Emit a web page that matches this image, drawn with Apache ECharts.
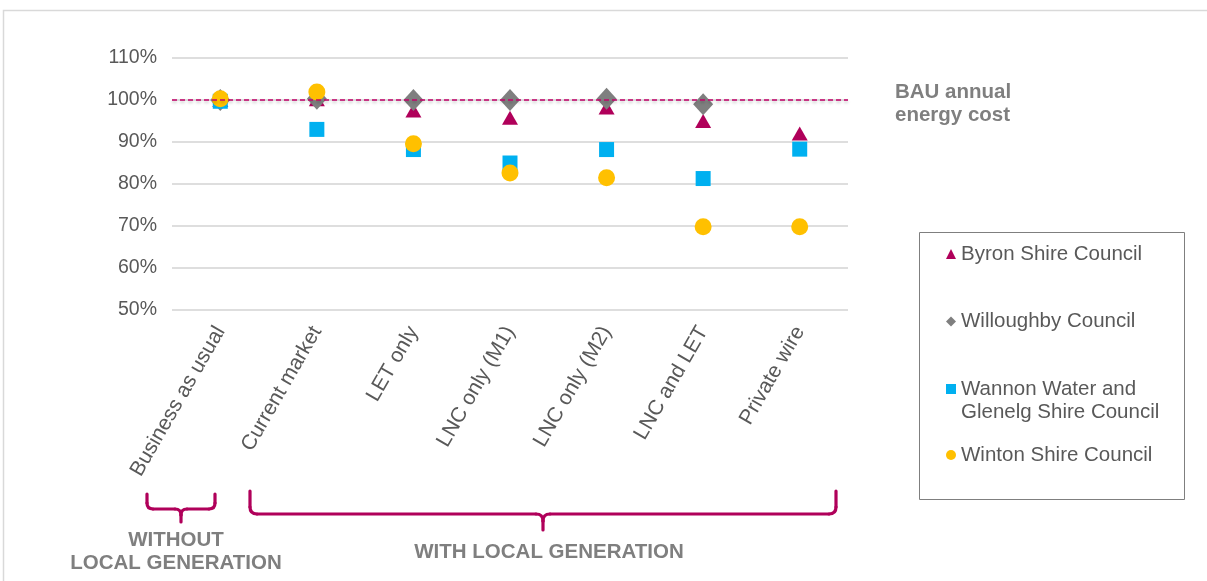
<!DOCTYPE html>
<html>
<head>
<meta charset="utf-8">
<script src="https://cdn.jsdelivr.net/npm/echarts@6.0.0/dist/echarts.min.js"></script>
<style>
  html, body { margin: 0; padding: 0; background: #fff; }
  #chart { width: 1207px; height: 581px; }
</style>
</head>
<body>
<div id="chart"></div>
<script>
// 分类
const categories = ["Business as usual", "Current market", "LET only", "LNC only (M1)", "LNC only (M2)", "LNC and LET", "Private wire"];
// 各系列数值（相对 BAU 的百分比）
const byron = [100, 100.2, 97.5, 95.8, 98.2, 95.0, 92.0];
const willoughby = [100, 100.3, 100, 100, 100.3, 99.0, null];
const wannon = [99.7, 93.0, 88.2, 85.0, 88.2, 81.3, 88.3];
const winton = [100.3, 101.9, 89.6, 82.6, 81.5, 69.8, 69.8];
const bauLevel = 100;
const yTicks = { min: 50, max: 110, step: 10 };

const FONT = "Liberation Sans, Arial, sans-serif";
const textGrey = "#595959";
const labelGrey = "#7f7f7f";
const maroon = "#b0005a";

// 花括号：由直线和二次曲线拼成
const brace = (x1, x2, y0, yh, yt, r) => {
  const xc = (x1 + x2) / 2;
  const style = { stroke: maroon, lineWidth: 3.2, fill: null, lineCap: "round" };
  const line = (a, b, c, d) => ({ type: "line", shape: { x1: a, y1: b, x2: c, y2: d }, style });
  const curve = (a, b, cx, cy, c, d) => ({
    type: "bezierCurve",
    shape: { x1: a, y1: b, cpx1: cx, cpy1: cy, x2: c, y2: d },
    style,
  });
  return {
    type: "group",
    silent: true,
    children: [
      line(x1, y0, x1, yh - r),
      curve(x1, yh - r, x1, yh, x1 + r, yh),
      line(x1 + r, yh, xc - r, yh),
      curve(xc - r, yh, xc, yh, xc, yh + r),
      line(xc, yh + r, xc, yt),
      curve(xc + r, yh, xc, yh, xc, yh + r),
      line(xc + r, yh, x2 - r, yh),
      curve(x2 - r, yh, x2, yh, x2, yh - r),
      line(x2, yh - r, x2, y0),
    ],
  };
};

const legendBase = {
  left: 946,
  orient: "vertical",
  padding: 0,
  itemWidth: 10,
  itemHeight: 10,
  selectedMode: false,
  textStyle: { color: textGrey, fontSize: 20.5, fontFamily: FONT, lineHeight: 23 },
};

let option = {
  animation: false,
  backgroundColor: "#fff",
  grid: { left: 172, right: 359, top: 58, bottom: 271 },
  legend: [
    { ...legendBase, top: 242.5, data: ["Byron Shire Council"] },
    { ...legendBase, top: 310, data: ["Willoughby Council"] },
    {
      ...legendBase,
      top: 354.5,
      data: ["Wannon Water and Glenelg Shire Council"],
      // 首行留空，让图标对齐第一行文字
      formatter: () => " \nWannon Water and\nGlenelg Shire Council",
    },
    { ...legendBase, top: 443.5, data: ["Winton Shire Council"] },
  ],
  xAxis: {
    type: "category",
    data: categories,
    axisLine: { show: false },
    axisTick: { show: false },
    axisLabel: { rotate: 60, margin: 18, color: textGrey, fontSize: 21, fontFamily: FONT },
  },
  yAxis: {
    type: "value",
    min: yTicks.min,
    max: yTicks.max,
    interval: yTicks.step,
    axisLine: { show: false },
    axisTick: { show: false },
    axisLabel: { formatter: "{value}%", margin: 15, color: textGrey, fontSize: 19.5, fontFamily: FONT },
    splitLine: { lineStyle: { color: "#dedede", width: 2 } },
  },
  series: [
    {
      name: "Byron Shire Council",
      type: "scatter",
      symbol: "triangle",
      symbolSize: [16, 14],
      itemStyle: { color: maroon, opacity: 1 },
      data: byron,
      markLine: {
        silent: true,
        symbol: "none",
        lineStyle: {
          type: [5, 3],
          color: "#c4006a",
          width: 1.5,
          shadowColor: "rgba(0,0,0,0.25)",
          shadowBlur: 3,
          shadowOffsetY: 2,
        },
        label: {
          show: true,
          position: "end",
          distance: 47,
          // 顶部加一个矮空行，让文字整体略低于虚线
          formatter: "{s| }\nBAU annual\nenergy cost",
          rich: { s: { lineHeight: 7, fontSize: 1 } },
          color: labelGrey,
          fontSize: 20.5,
          fontWeight: "bold",
          fontFamily: FONT,
          lineHeight: 23,
          align: "left",
        },
        data: [{ yAxis: bauLevel }],
      },
    },
    {
      name: "Willoughby Council",
      type: "scatter",
      symbol: "diamond",
      symbolSize: [20, 22],
      itemStyle: { color: "#7f7f7f", opacity: 1 },
      data: willoughby,
    },
    {
      name: "Wannon Water and Glenelg Shire Council",
      type: "scatter",
      symbol: "rect",
      symbolSize: 15,
      itemStyle: { color: "#00b0f0", opacity: 1 },
      data: wannon,
    },
    {
      name: "Winton Shire Council",
      type: "scatter",
      symbol: "circle",
      symbolSize: 17,
      itemStyle: { color: "#ffc000", opacity: 1 },
      data: winton,
    },
  ],
  graphic: [
    // 外框
    {
      type: "polyline",
      shape: { points: [[3.5, 581], [3.5, 10.5], [1207, 10.5]] },
      style: { stroke: "#d9d9d9", lineWidth: 1.5, fill: null },
      silent: true,
    },
    // 图例框
    {
      type: "rect",
      shape: { x: 919.5, y: 232.5, width: 265, height: 267 },
      style: { stroke: "#7f7f7f", lineWidth: 1, fill: null },
      silent: true,
    },
    brace(147, 215, 494, 509, 522, 6),
    brace(250, 836, 491, 514, 530, 7),
    {
      type: "text",
      x: 176,
      y: 529,
      silent: true,
      style: {
        text: "WITHOUT\nLOCAL GENERATION",
        align: "center",
        verticalAlign: "top",
        fill: labelGrey,
        font: `bold 20.5px ${FONT}`,
        lineHeight: 23,
      },
    },
    {
      type: "text",
      x: 549,
      y: 542,
      silent: true,
      style: {
        text: "WITH LOCAL GENERATION",
        align: "center",
        verticalAlign: "top",
        fill: labelGrey,
        font: `bold 20.5px ${FONT}`,
      },
    },
  ],
};

let chart = null;
const init = () => {
  if (chart) {
    chart.dispose();
  }
  chart = echarts.init(document.getElementById("chart"));
  option && chart.setOption(option);
};

init();
</script>
</body>
</html>
